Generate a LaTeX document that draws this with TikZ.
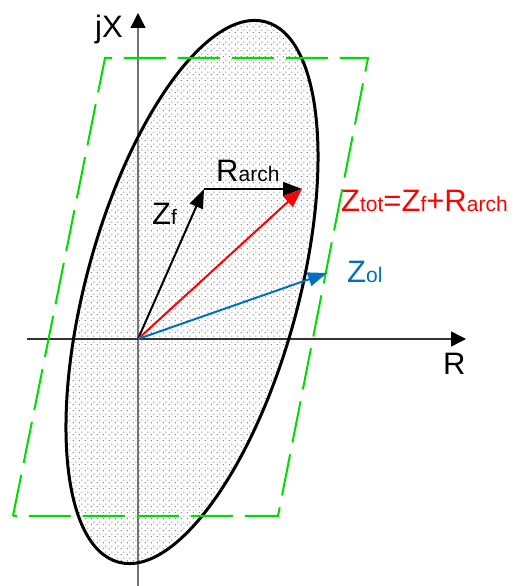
\documentclass[tikz,border=0pt]{standalone}
\usepackage{fontspec}
\setmainfont{Liberation Sans}
\usetikzlibrary{arrows.meta,patterns.meta}
\definecolor{zgreen}{RGB}{0,220,0}
\definecolor{zblue}{RGB}{0,112,192}
\definecolor{zred}{RGB}{255,0,0}
\newcommand{\bigtxt}{\fontsize{31}{31}\selectfont}
\newcommand{\smtxt}[1]{{\fontsize{21}{21}\selectfont #1}}
\tikzdeclarepattern{
  name=mydots, type=uncolored,
  bounding box={(0pt,0pt) and (6pt,6pt)},
  tile size={(6pt,6pt)},
  code={\fill (1.5pt,1.5pt) circle (0.8pt); \fill (4.5pt,4.5pt) circle (0.8pt);}
}
\tikzset{
  axisline/.style={line width=1.5pt},
  axistip/.style={-{Triangle[length=15pt,width=15pt,black]}},
  vec/.style={line width=2pt,-{Triangle[length=19pt,width=14pt]}},
  lbl/.style={inner sep=0pt, anchor=base west, font=\bigtxt},
  outline/.style={line width=3pt},
  zone/.style={zgreen, line width=2pt, dash pattern=on 42pt off 12pt, line join=miter}
}
\begin{document}
\begin{tikzpicture}[x=1pt,y=1pt]
\useasboundingbox (0,0) rectangle (519,586);
% shaded ellipse
\fill[white, rotate around={-15.25:(192,294)}] (192,294) ellipse [x radius=106, y radius=280];
\fill[pattern={mydots}, pattern color=black!50, rotate around={-15.25:(192,294)}] (192,294) ellipse [x radius=106, y radius=280];
% axes
\coordinate (O) at (138,247);
\coordinate (yb) at (138,0);
\coordinate (yt) at (138,573);
\coordinate (xl) at (27,247);
\coordinate (xr) at (466,247);
\draw[axisline, black!55] (yb) -- (O);
\draw[axisline, black!55, axistip] (O) -- (yt);
\draw[axisline, black!80, axistip] (xl) -- (xr);
% outline of ellipse
\draw[outline, rotate around={-15.25:(192,294)}] (192,294) ellipse [x radius=106, y radius=280];
% green dashed parallelogram
\coordinate (p1) at (13,70);
\coordinate (p2) at (105,528);
\coordinate (p3) at (368,528);
\coordinate (p4) at (278,70);
\draw[zone] (p1) -- (p2) -- (p3) -- (p4) -- cycle;
% vectors
\coordinate (F) at (204,397);
\coordinate (T) at (302,397);
\coordinate (L) at (327,313);
\draw[vec, black] (O) -- (F);
\draw[vec, black] (F) -- (T);
\draw[vec, zred] (O) -- (T);
\draw[vec, zblue] (O) -- (L);
% labels
\node[lbl] (jx) at (95,548) {jX};
\node[lbl] (rax) at (443,211) {R};
\node[lbl] (rarch) at (216,404) {R\smtxt{arch}};
\node[lbl] (zf) at (152,361) {Z\smtxt{f}};
\node[lbl, text=zred] (ztot) at (341,374) {Z\smtxt{tot}=Z\smtxt{f}+R\smtxt{arch}};
\node[lbl, text=zblue] (zol) at (347,303) {Z\smtxt{ol}};
\end{tikzpicture}
\end{document}
